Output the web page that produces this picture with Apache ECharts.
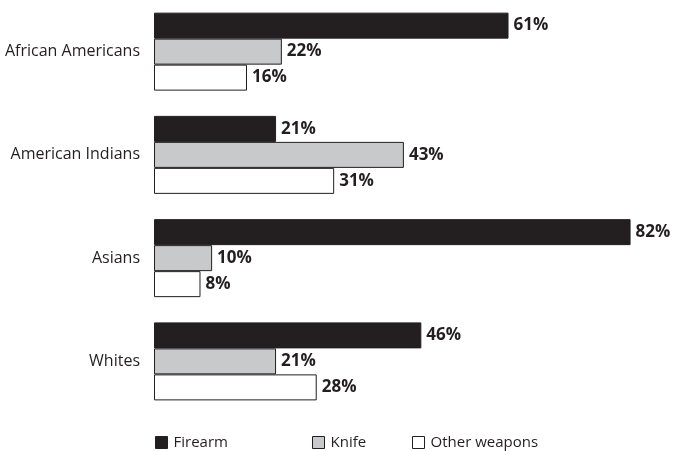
<!DOCTYPE html>
<html>
<head>
<meta charset="utf-8">
<style>
  html, body { margin: 0; padding: 0; background: #ffffff; }
  #chart { width: 673px; height: 451px; }
</style>
<script src="https://cdn.jsdelivr.net/npm/echarts@6/dist/echarts.min.js"></script>
</head>
<body>
<div id="chart"></div>
<script>
// Share of homicides by weapon type, per victim group (percent)
var categories = ['African Americans', 'American Indians', 'Asians', 'Whites'];
var firearm = [61, 21, 82, 46];
var knife = [22, 43, 10, 21];
var otherWeapons = [16, 31, 8, 28];
var seriesNames = ['Firearm', 'Knife', 'Other weapons'];

var INK = '#231f20';
var fills = [INK, '#c8c9ca', '#ffffff'];
var values = [firearm, knife, otherWeapons];

var chart = echarts.init(document.getElementById('chart'));

var series = seriesNames.map(function (name, i) {
  return {
    name: name,
    type: 'bar',
    data: values[i],
    barWidth: 26,
    barGap: '0%',
    itemStyle: { color: fills[i], borderColor: INK, borderWidth: 1 },
    label: {
      show: true,
      position: 'right',
      distance: 5,
      formatter: '{c}%',
      color: INK,
      fontFamily: 'Open Sans',
      fontWeight: 'bold',
      fontSize: 17
    },
    emphasis: { disabled: true },
    animation: false
  };
});

function legendAt(name, left) {
  return {
    data: [name],
    left: left,
    top: 430,
    icon: 'rect',
    itemWidth: 12,
    itemHeight: 12,
    itemGap: 0,
    selectedMode: false,
    textStyle: { color: INK, fontFamily: 'Open Sans', fontSize: 15, padding: [0, 0, 0, 1] },
    itemStyle: { borderColor: INK, borderWidth: 1 }
  };
}

chart.setOption({
  backgroundColor: '#ffffff',
  animation: false,
  legend: [
    legendAt('Firearm', 150),
    legendAt('Knife', 307),
    legendAt('Other weapons', 407)
  ],
  grid: { left: 154, right: 25, top: -2, height: 415 },
  xAxis: {
    type: 'value',
    min: 0,
    max: 85,
    show: false
  },
  yAxis: {
    type: 'category',
    data: categories,
    inverse: true,
    axisLine: { show: false },
    axisTick: { show: false },
    axisLabel: {
      color: INK,
      fontFamily: 'Open Sans',
      fontSize: 16,
      margin: 14
    }
  },
  series: series
});
</script>
</body>
</html>
